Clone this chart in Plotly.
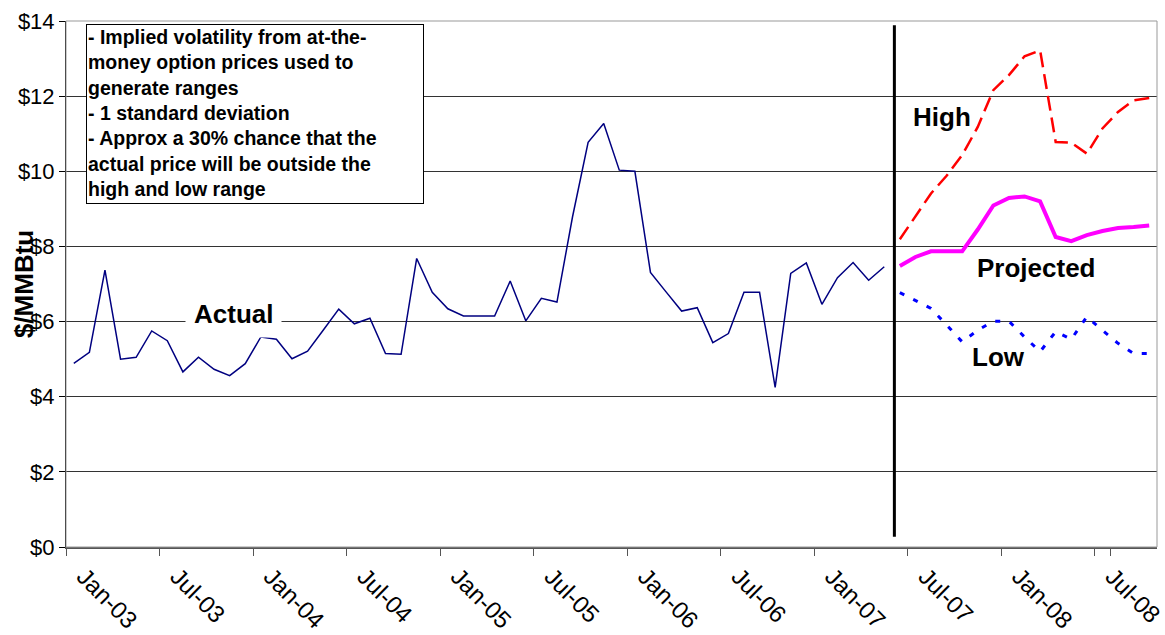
import pandas as pd
import plotly.graph_objects as go

# Monthly category labels, Jan-03 .. Oct-08
months = pd.date_range("2003-01-01", periods=70, freq="MS").strftime("%b-%y").tolist()

# Historical monthly price ($/MMBtu), Jan-03 .. May-07
actual = [4.89, 5.18, 7.37, 5.00, 5.05, 5.75, 5.49, 4.66, 5.05, 4.73, 4.56, 4.88,
          5.59, 5.53, 5.01, 5.21, 5.77, 6.33, 5.94, 6.09, 5.15, 5.13, 7.68, 6.78,
          6.34, 6.15, 6.15, 6.15, 7.08, 6.02, 6.62, 6.52, 8.79, 10.77, 11.27, 10.03,
          10.00, 7.31, 6.79, 6.28, 6.37, 5.44, 5.68, 6.78, 6.78, 4.25, 7.28, 7.56,
          6.46, 7.17, 7.57, 7.10, 7.46]

# Forward curve and 1-sigma band, Jun-07 .. Oct-08
projected = [7.48, 7.72, 7.87, 7.87, 7.87, 8.45, 9.09, 9.29, 9.33, 9.20, 8.25, 8.14,
             8.30, 8.41, 8.49, 8.52, 8.56]
high = [8.19, 8.79, 9.41, 9.88, 10.43, 11.18, 12.16, 12.56, 13.06, 13.22, 10.78, 10.76,
        10.47, 11.14, 11.58, 11.89, 11.95]
low = [6.77, 6.57, 6.35, 5.91, 5.46, 5.77, 6.01, 6.01, 5.59, 5.20, 5.73, 5.53,
       6.13, 5.77, 5.42, 5.15, 5.15]

forecast_start = "Jun-07"

actual_x = months[:len(actual)]
start_idx = months.index(forecast_start)
proj_x = months[start_idx:start_idx + len(projected)]

FONT = "Liberation Sans, Arial, sans-serif"

fig = go.Figure()
fig.add_trace(go.Scatter(x=actual_x, y=actual, mode="lines",
                         line=dict(color="#000080", width=1.5), name="Actual"))
fig.add_trace(go.Scatter(x=proj_x, y=high, mode="lines",
                         line=dict(color="#FF0000", width=2.5, dash="15px,7px"), name="High"))
fig.add_trace(go.Scatter(x=proj_x, y=projected, mode="lines",
                         line=dict(color="#FF00FF", width=4), name="Projected"))
fig.add_trace(go.Scatter(x=proj_x, y=low, mode="lines",
                         line=dict(color="#0000FF", width=3, dash="5px,10px"), name="Low"))

# divider between history and projection
div_x = start_idx - 0.35
fig.add_shape(type="line", xref="x", yref="y", x0=div_x, x1=div_x, y0=0.27, y1=13.89,
              line=dict(color="black", width=3))
# plot-area border
fig.add_shape(type="rect", xref="paper", yref="paper", x0=0, x1=1, y0=0, y1=1,
              line=dict(color="#999999", width=1), layer="above")

label_font = dict(family=FONT, size=26, color="black", weight="bold")
fig.add_annotation(x=10.27, y=6.2, xref="x", yref="y", text="Actual", showarrow=False,
                   font=label_font, bgcolor="white", borderpad=8)
fig.add_annotation(x=55.7, y=11.45, xref="x", yref="y", text="High", showarrow=False,
                   font=label_font)
fig.add_annotation(x=61.74, y=7.42, xref="x", yref="y", text="Projected", showarrow=False,
                   font=label_font)
fig.add_annotation(x=59.31, y=5.05, xref="x", yref="y", text="Low", showarrow=False,
                   font=label_font)

note = ("- Implied volatility from at-the-<br>money option prices used to<br>"
        "generate ranges<br>- 1 standard deviation<br>- Approx a 30% chance that the<br>"
        "actual price will be outside the<br>high and low range")
fig.add_annotation(x=0.0183, y=0.9943, xref="paper", yref="paper", xanchor="left",
                   yanchor="top", text=note, showarrow=False, align="left", valign="top",
                   width=334, height=176, bgcolor="white", bordercolor="black",
                   borderwidth=1, borderpad=1,
                   font=dict(family=FONT, size=19.5, color="black", weight="bold"))

fig.add_annotation(x=-0.054, y=0.5, xref="paper", yref="paper", text="$/MMBtu",
                   textangle=-90, showarrow=False,
                   font=dict(family=FONT, size=26, color="black", weight="bold"))

fig.update_layout(
    width=1165, height=635,
    margin=dict(l=66, r=8, t=21, b=88, autoexpand=False),
    paper_bgcolor="white", plot_bgcolor="white",
    showlegend=False,
    font=dict(family=FONT, size=22, color="black"),
)
fig.update_xaxes(type="category", categoryorder="array", categoryarray=months,
                 range=[-0.5, len(months) - 0.5], automargin=False,
                 tickmode="array", tickvals=months[::6], ticktext=months[::6],
                 tickson="boundaries", tickangle=45, ticks="outside", ticklen=7,
                 tickcolor="#555555", tickwidth=1, showline=True, linecolor="#555555",
                 linewidth=2, showgrid=False, zeroline=False,
                 ticklabelshift=10, ticklabelstandoff=4,
                 tickfont=dict(family=FONT, size=24, color="black"))
fig.update_yaxes(range=[0, 14], dtick=2, tick0=0, tickprefix="$", ticks="outside",
                 ticklen=6, tickcolor="black", showline=True, linecolor="black",
                 linewidth=1, showgrid=True, gridcolor="#333333", gridwidth=1,
                 zeroline=False, automargin=False,
                 tickfont=dict(family=FONT, size=22, color="black"))

fig.write_html("out.html")
